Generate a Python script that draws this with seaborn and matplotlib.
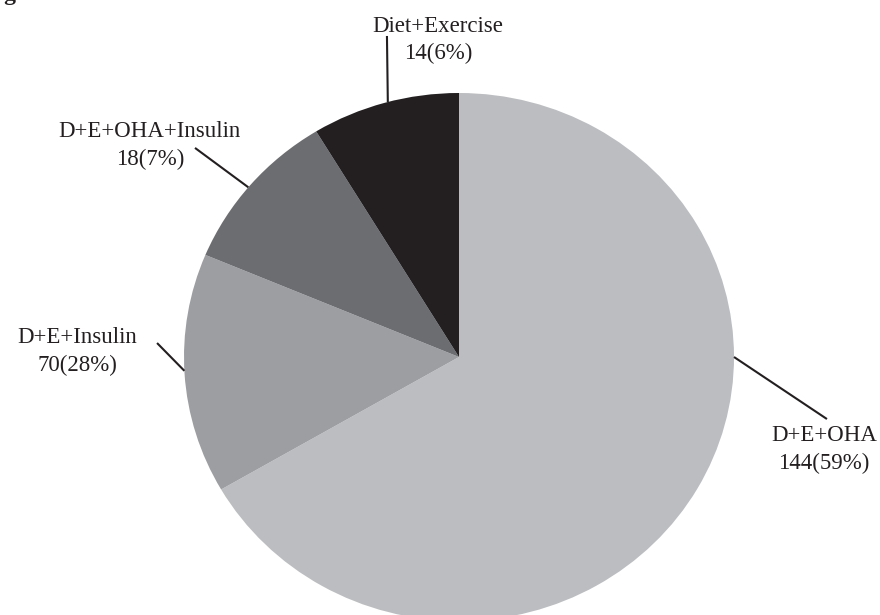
import numpy as np
import matplotlib
matplotlib.use("Agg")
import matplotlib.pyplot as plt
import seaborn as sns

# ---- data ----
categories = ["D+E+OHA", "D+E+Insulin", "D+E+OHA+Insulin", "Diet+Exercise"]
counts = [144, 70, 18, 14]
percents = [59, 28, 7, 6]
# share of the circle each slice occupies in the drawing
slice_share = [66.7, 14.7, 10.0, 8.7]

# ---- styling / layout ----
colors = ["#bcbdc0", "#9d9ea2", "#6c6d71", "#231f20"]
ink = "#231f20"
anchor_deg = [0, 183, 140, 105]            # where leader lines touch the pie
line_end = [(1.338, -0.235), (-1.098, 0.053), (-0.960, 0.792), (-0.262, 1.216)]
text_pos = [(1.327, -0.350), (-1.389, 0.020), (-1.124, 0.800), (-0.076, 1.200)]

sns.set_theme(style="white")
plt.rcParams["font.family"] = ["Liberation Serif", "DejaVu Serif"]

fig = plt.figure(figsize=(8.8, 6.15), dpi=100)
W, H = 880, 615
# pie spans x 184..734 px and y 93..621 px (from top)
ax = fig.add_axes([184 / W, (H - 621) / H, 550 / W, 528 / H])

wedges, _ = ax.pie(slice_share, colors=colors, startangle=90, counterclock=False,
                   radius=1, wedgeprops=dict(linewidth=0))
ax.set_aspect("auto")
ax.set_xlim(-1, 1)
ax.set_ylim(-1, 1)
ax.axis("off")

for i, cat in enumerate(categories):
    a = np.deg2rad(anchor_deg[i])
    x0, y0 = np.cos(a), np.sin(a)
    x1, y1 = line_end[i]
    ax.plot([x0, x1], [y0, y1], color=ink, lw=1.5, clip_on=False,
            solid_capstyle="butt")
    tx, ty = text_pos[i]
    ax.text(tx, ty, f"{cat}\n{counts[i]}({percents[i]}%)", ha="center",
            va="center", fontsize=16.5, color=ink, linespacing=1.4,
            multialignment="center")

# title of the source figure, cut off at the top edge as in the reference
fig.text(-17 / W, 1.0, "Figure 3: Mode of treatment.", ha="left",
         va="baseline", fontsize=17, fontweight="bold", color=ink)

fig.savefig("out.png", dpi=100)
